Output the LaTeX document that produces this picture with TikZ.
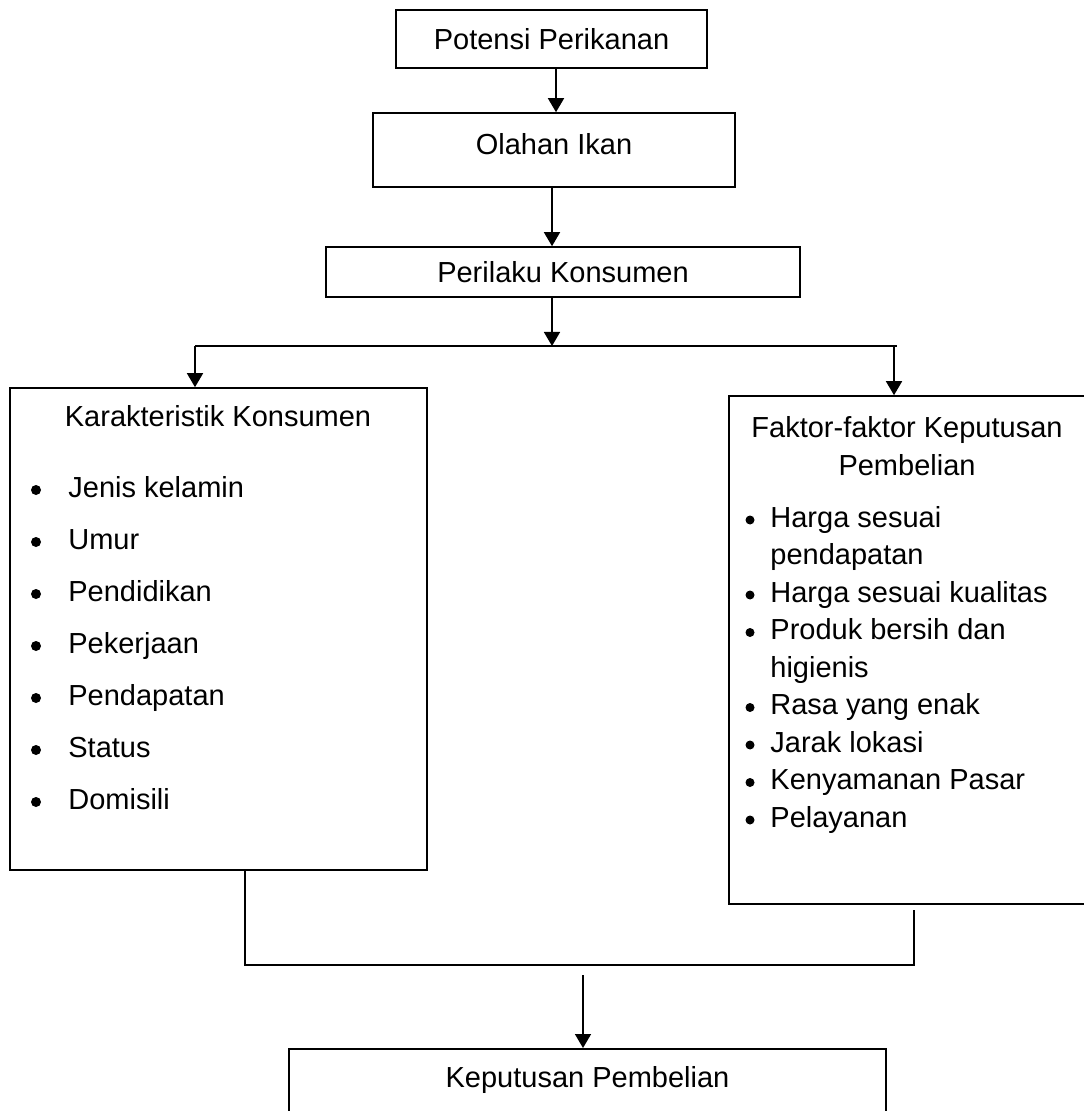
\documentclass[tikz,border=0pt]{standalone}
\usepackage{fontspec}
\setmainfont{Liberation Sans}
\usetikzlibrary{arrows.meta}
\tikzset{
  kotak/.style={draw, line width=0.8pt, inner sep=0pt},
  garis/.style={line width=0.8pt},
  panah/.style={line width=0.8pt, -{Triangle[width=8pt,length=7pt]}},
  titik/.style={fill=black}
}

\begin{document}
\begin{tikzpicture}[x=0.5pt, y=-0.5pt, font=\fontsize{14.5}{18.75}\selectfont]
  \useasboundingbox (0,0) rectangle (1083,1111);
  % kotak atas
  \node[kotak, minimum width=155.5pt, minimum height=29pt] (potensi) at (551.5,39) {Potensi Perikanan};
  \node[kotak, minimum width=181pt, minimum height=37pt, text depth=6pt] (olahan) at (554,150) {Olahan Ikan};
  \node[kotak, minimum width=237pt, minimum height=25pt] (perilaku) at (563,272) {Perilaku Konsumen};
  % kotak kiri dan kanan
  \node[kotak, minimum width=208.5pt, minimum height=241pt] (karakter) at (218.5,629) {};
  \node[kotak, minimum width=185.5pt, minimum height=254pt] (faktor) at (914.5,650) {};
  % kotak bawah (terpotong)
  \node[kotak, anchor=north, minimum width=298.5pt, text height=19.5pt, text depth=40pt] (keputusan) at (587.5,1048) {Keputusan Pembelian};

  % panah atas
  \coordinate (x1) at (556,0);
  \coordinate (x2) at (552,0);
  \draw[panah] (x1 |- potensi.south) -- (x1 |- olahan.north);
  \draw[panah] (x2 |- olahan.south) -- (x2 |- perilaku.north);
  % cabang
  \coordinate (cabangL) at (195,346);
  \coordinate (cabangR) at (897,346);
  \coordinate (x3) at (894,0);
  \draw[panah] (x2 |- perilaku.south) -- (x2 |- cabangL);
  \draw[garis] (cabangL) -- (cabangR);
  \draw[panah] (cabangL) -- (cabangL |- karakter.north);
  \draw[panah] (x3 |- cabangR) -- (x3 |- faktor.north);
  % gabung ke bawah
  \coordinate (gabungL) at (245,965);
  \coordinate (gabungR) at (914,965);
  \coordinate (x4) at (583,975);
  \draw[garis] (karakter.south -| gabungL) -- (gabungL) -- (gabungR) -- ([yshift=-2.5pt]faktor.south -| gabungR);
  \draw[panah] (x4) -- (x4 |- keputusan.north);

  % isi kotak kiri
  \node[anchor=base] (judulKar) at (218,427) {Karakteristik Konsumen};
  \foreach \teks [count=\i] in {Jenis kelamin, Umur, Pendidikan, Pekerjaan, Pendapatan, Status, Domisili}{
    \node[anchor=base west, inner sep=0pt] (kar\i) at (68,{497+52*(\i-1)}) {\teks};
    \fill[titik] (36,{490+52*(\i-1)}) circle (5);
  }
  % isi kotak kanan
  \node[anchor=base, align=center, inner sep=0pt] (judulFak) at (907,475) {Faktor-faktor Keputusan\\Pembelian};
  \foreach \teks/\ada [count=\i] in {Harga sesuai/1, pendapatan/0, Harga sesuai kualitas/1, Produk bersih dan/1, higienis/0, Rasa yang enak/1, Jarak lokasi/1, Kenyamanan Pasar/1, Pelayanan/1}{
    \node[anchor=base west, inner sep=0pt] (fak\i) at (770,{527+37.5*(\i-1)}) {\teks};
    \ifnum\ada=1 \fill[titik] (750,{520+37.5*(\i-1)}) circle (4.5); \fi
  }
\end{tikzpicture}
\end{document}
